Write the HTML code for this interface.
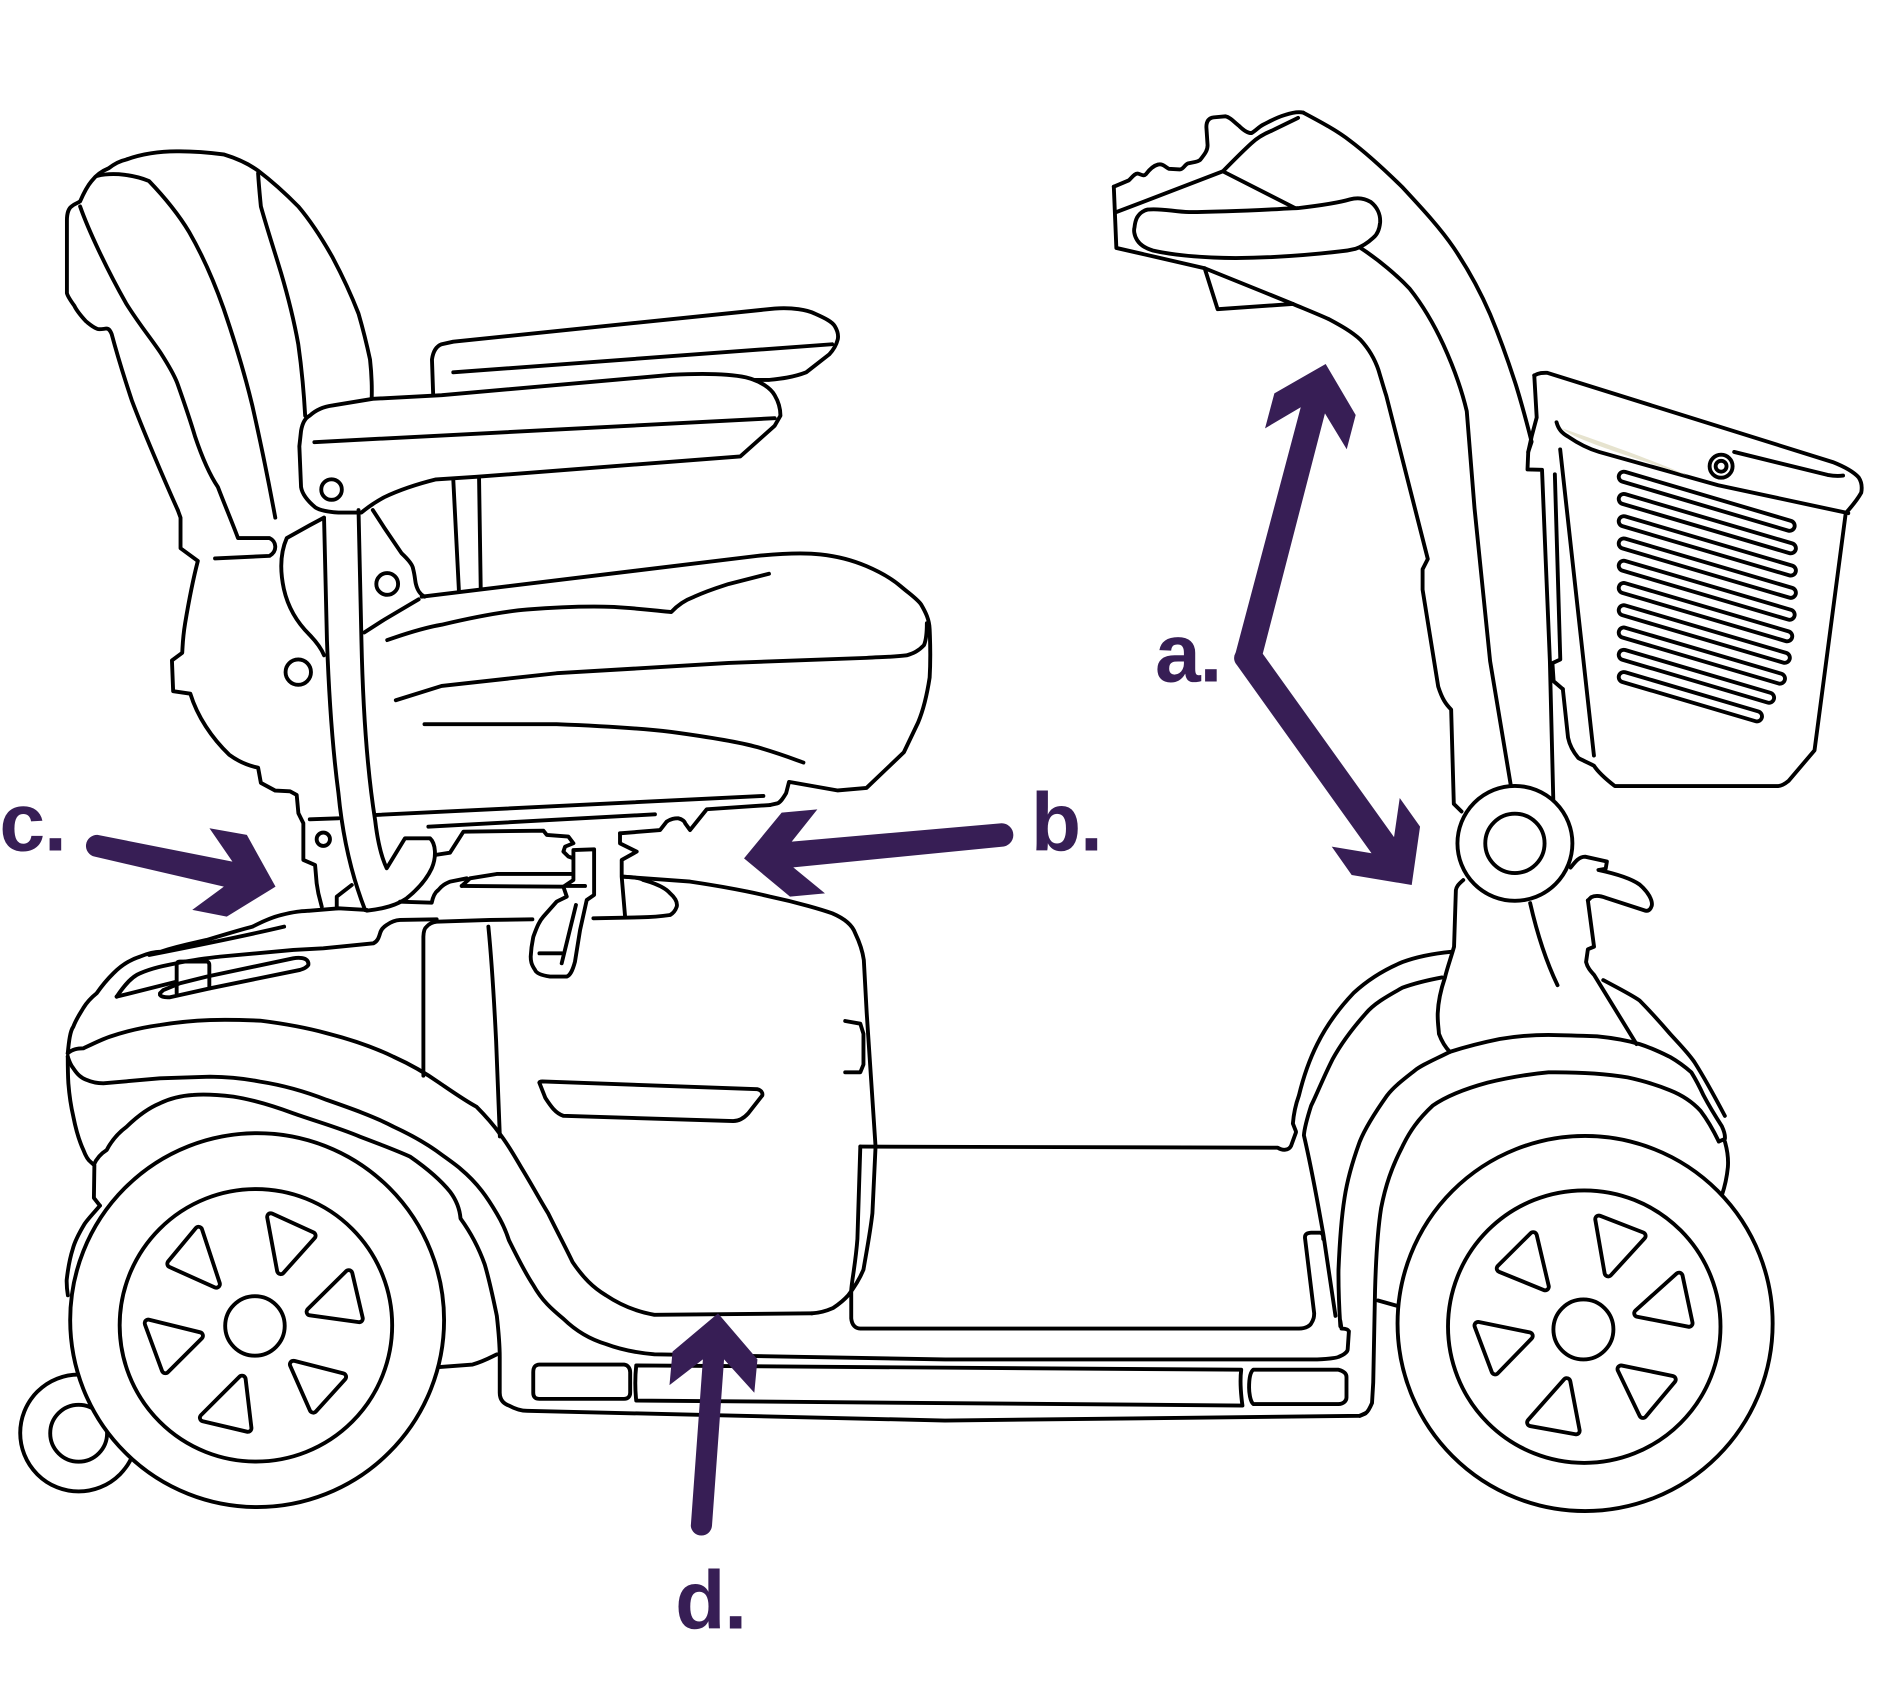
<!DOCTYPE html>
<html>
<head>
<meta charset="utf-8">
<style>
html,body{margin:0;padding:0;background:#fff;}
svg{display:block;}
.l path,.l circle,.l polygon,.l polyline{fill:none;stroke:#000;stroke-width:3.2;stroke-linejoin:round;stroke-linecap:round;}
.l .w{fill:#fff;}
.p{fill:#371e55;stroke:none;}
.lab{font-family:"Liberation Sans",Arial,sans-serif;font-weight:bold;font-size:68px;fill:#371e55;letter-spacing:-1px;}
.tb polygon{fill:#000;stroke:#000;stroke-width:9.2;stroke-linejoin:round;}
.tw polygon{fill:#fff;stroke:#fff;stroke-width:2.8;stroke-linejoin:round;}
</style>
</head>
<body>
<svg width="1894" height="1684" viewBox="0 0 1565.29 1391.74" xmlns="http://www.w3.org/2000/svg">
<rect x="0" y="0" width="1565.29" height="1391.74" fill="#fff"/>
<g class="l">
<!-- ================= SEAT BACK ================= -->
<path d="M146.9,421.5 C135,395 118,355 108.9,330.8 C102,310 96,290 92.3,276.1 C91,273 90,271.5 88,271.5 C84,272 82,272.5 80.4,271.8 C76,270 73,267 71,265.5 C66,260 63,256 61.5,252.8 C58,248 56,245 55.3,242.3 L55.3,182 C55.3,176 57,172 59.1,170.6 C62,168 64,168 66.2,166.4 C69,160 72,154 75.7,149.6 C80,144 85,141 89.9,139 C95,135 99,133 104.2,131.9 C118,127 132,125 146.9,125.1 C160,125 172,126 184.8,127.6 C196,131 205,135 213.3,141.1 C225,150 236,160 246.5,170.6 C257,183 266,197 274.9,212.8 C283,228 290,243 296.3,259.2 C300,272 303,284 305.8,297.1 C307,308 307.5,318 307.2,328.7"/>
<path d="M66.2,170.6 C73,190 88,222 104.2,250.7 C115,268 125,280 133,292 C140,303 145,312 147,318 C153,335 158,350 161.1,360.4 C167,378 173,392 180.1,402.5 C186,418 192,432 196.7,444.7 L222.8,444.7 C228,447 230,455 222.8,459.4 L177.7,461.5"/>
<path d="M80.4,145.3 C95,142 112,145 123.1,149.6 C136,163 148,178 156.3,191.7 C168,212 177,233 184.8,255 C194,282 202,308 208.5,335.1 C216,368 222,398 227.5,427.8"/>
<path d="M213.3,143.2 C214,155 215,164 215.6,170.6 C221,190 227,208 232.2,225.4 C238,245 243,265 246.5,284.5 C249,302 251,322 252.2,343.5"/>
<!-- seat pivot housing -->
<path d="M146.9,421.5 L149.2,427.8 L149.2,453.1 L163.5,463.6 C160,477 156,497 153,515 C151,527 151,533 150.6,539.5 L142.1,545.8 L143.1,571.2 L157.3,573.3 C163,592 175,610 189.5,623.8 C198,630 206,633 213.3,634.4 L215.6,647 L227.5,653.4 L239.7,654 L245.2,657 L246.6,672.1 L250.7,680.4 L250.7,710.7 L260.4,714.9 L261.7,730 L263.1,738.3 L265.9,749.3"/>
<path d="M267.8,427.8 L256,434.1 L237,444.7 C232,456 231,470 234.6,486.8 C238,502 246,515 256,524.8 C262,531 266,537 267.8,541.6"/>
<circle cx="246.5" cy="555.5" r="10.5"/>
<circle cx="320" cy="482.6" r="9"/>
<circle cx="267.2" cy="693.6" r="5.5"/>
<path d="M256,677.1 L279.6,676.3"/>
<path d="M278.3,750.7 L278.3,741 L290.7,731.4"/>
<!-- seat side under armrest -->
<path d="M308.1,421.5 L317.6,436.2 L331.9,457.3 C338,463 341,467 341.4,470 C343,476 343,480 343.7,482.6 C345,488 347,491 350.8,493.1"/>
<!-- ================= ARMRESTS ================= -->
<path d="M358,326.6 L357,297.1 C358,290 361,286 365,284.5 L374.6,282.4 L640.2,255 C655,254 667,256 673.4,259.2 C682,263 688,266 690,269.7 C692,273 693,277 692.4,280.3 C691,286 688,290 685.3,292.9 L666.3,307.7 C655,312 645,313 635.5,314 L621.2,314"/>
<path d="M374.6,307.7 L687.7,284.5"/>
<path d="M374.6,396.2 L379.3,488.9"/>
<path d="M395.9,394.1 L397.3,486.8"/>
<path class="w" d="M248.8,356.1 C250,349 253,345 256,343.5 C262,338 268,336 274.9,335.1 L308.1,329.6 L365,326.6 L554.8,309.8 C580,308.5 603,309 616.5,311.9 C629,315 637,321 640.2,326.6 C644,333 645,339 645,343.5 L640.2,351.9 L611.8,377.2 L393.5,394.1 L360.3,396.2 C345,400 330,405 317.6,410.9 C310,415 303,420 298.7,423.6 L279.7,423.6 C270,423 264,421.5 260.7,419.4 C253,413 249.5,407 248.8,402.5 L247.4,368.8 Z"/>
<path d="M259.8,365.4 L640.2,345.6"/>
<circle cx="274" cy="404.6" r="8.5"/>
<!-- ================= SEAT CUSHION ================= -->
<path d="M348.5,493.1 L626,459.4 C650,457 668,457 678.2,458.2 C695,460 707,464 716.1,467.9 C728,473 738,479 744.6,484.7 C752,491 758,495 761.2,499.5 C765,506 768,512 768.3,520 C769,535 769,548 768.3,560 C766,575 763,587 758.8,597 L747,621.7 L716.1,651.2 L692.4,653.3 L652.1,646.2 L649.7,655.5 C647,660 645,663 642.6,663.9 L636.4,665.3"/>
<path d="M766,515 C766,525 765,530 763.6,533.2 C759,538 755,540 749.3,541.6 C738,543 728,543 716.1,543.7 L602.3,547.9 L460,556.4 L365,566.9 L327.1,578.7"/>
<path d="M301,522.7 L317.6,512.1 L346,495.3"/>
<path d="M320,529 C340,522 355,518 365,516.3 C400,508 420,505 436.2,503.7 C470,501 490,501 507.4,501.6 C530,503 545,505 554.8,505.8 C560,500 566,496 573.8,493.1 C585,488 595,485 602.3,482.6 L635.5,474.2"/>
<path d="M350.8,598.5 L460,598.5 C500,600 530,602 554.8,604.9 C585,609 610,613 626,617.5 C645,623 655,627 664,630.2"/>
<path d="M311.3,673.5 L630.9,657.8"/>
<path d="M354,683.2 L541.3,673"/>
<!-- tube -->
<path d="M267.8,427.8 L270.2,529 C272,580 275,620 279.7,655.5 C283,690 290,722 301.7,752"/>
<path d="M296.3,421.5 L298.7,529 C300,590 304,640 310,677.7 C312,695 315,708 319.6,717.6 L334.7,692.8 L355.4,692.8 C360,697 361,708 356.8,717.6 C352,728 344,736 336.1,742.4 C328,748 318,751 303.1,752.6 L301.7,752"/>
<!-- mechanism -->
<path d="M359.5,706.6 L371.9,704.7 L383,687.3 L449.1,686.5 L451.9,690 L469.7,691.4 L473.9,696.9 L467,699.7 L465.6,703.8 L469.7,707.9 L473.9,709.3"/>
<path d="M381.6,732.2 L388.5,725.9 L410.5,722.3 L472.5,722.3"/>
<path d="M381.6,732.2 L468.4,732.8"/>
<path d="M330.6,745.2 L356.8,746 C358,740 360,737 362.3,735.5 C366,731 369,730 372,728.6 L385.7,725.9"/>
<path class="w" d="M473.9,702.5 L491,701.9 L491,739.6 L484.9,743.8 L479.4,768.6 L475.2,794.7 C473,803 471,806 468.4,807.1 L454.6,807.1 C447,806 443,804 442.2,801.6 C439,797 438.6,794 438.6,790.6 C439,782 440,778 440.8,774.1 C444,765 446,761 449.1,757.5 L460.1,745.1 L468.4,741 L465.6,732.8 L473.9,727.3 Z"/>
<path d="M476,747.9 L464.2,796.1"/>
<path d="M445.8,787.9 L464.2,787.9"/>
<path d="M468.4,732.2 L483.5,732.2"/>
<!-- seat post -->
<path d="M512.4,688.7 L512.4,697 L526.2,703.8 L513.8,710.7 L513.8,724.5 L516.6,757.5"/>
<path d="M512.4,688.7 L545.5,686 L551,679 C554,677 558,676 560.6,676.3 C564,677 566,679 566.2,680.4 L570.3,686 L584.1,668.8 L636.4,665.3"/>
<path d="M515.2,724.5 C525,725 530,726 531.7,727.3 C545,731 551,735 553.8,738.3 C558,742 560,746 559.3,749.3 C558,753 556,755 553.8,756.2 C545,757.5 535,758 529,758.1 L490.4,758.9"/>
<!-- ================= BODY ================= -->
<path d="M515.2,724.5 L570.3,728.6 C600,733 620,737 636.4,741 C660,746 680,752 687.8,754.8 C700,760 705,766 706.8,771.3 C711,780 713,787 713.9,793.4 L716.3,837.4 L723.6,947.6 L721,1002.7 C719,1020 716,1035 713.6,1049.3 C710,1058 706,1064 701,1070.5 C697,1075 693,1078 688.5,1081 C684,1083 678,1085 671,1085.4"/>
<path d="M698.5,843.8 L711,846 L713.6,854.4 L713.6,879.8 L711,886.2 L698.5,886.2"/>
<path d="M349.9,889 L349.9,774.1 C350,770 351,767 352.6,765.8 C355,763 358,762 360.9,761.7 L405,760.3 L440,759.8"/>
<path d="M403.6,765.8 C406,790 408,820 410,860 L413.1,939.2"/>
<path d="M448.2,893.8 L626,900.2 C629,901 630.5,903 630,905.3 L618.4,920.1 C614,925 610,926.5 605.9,926.5 L465.7,922.2 C459,920 455,914 450.7,907.4 L445.7,894.7 C446,894 447,893.8 448.2,893.8 Z"/>
<!-- rear top profile -->
<path d="M56,870.5 C57,860 58,852 60.6,848.5 C63,842 66,838 68.9,833 C72,828 76,824 79.9,820.9 C84,815 89,809 93.7,804.4 C100,798 108,793 115.7,790.6 C122,788 127,786.5 132.8,786.5 C150,781 162,779 170.8,776.8 C190,771 200,768 208.7,765.8 C218,761 225,758 232.4,756.2 C245,753 250,753 256.2,752.6 L280,750.7 L303.1,752"/>
<path d="M234.8,765.8 C200,774 160,782 123.3,789.2"/>
<path d="M96.4,823.7 C103,814 109,807 115.7,804.4 C126,800 136,798 146,796.1 C160,793 170,792 181.8,790.6 C200,789 220,787 242.4,785.1 L267.2,783.7 L308.6,779.6 C312,778 313,775 314.1,771.3 C315,768 317,766 319.6,764.4 C323,762 327,760.5 330.6,760.3 L360.9,759.8"/>
<path d="M96.4,823.7 L146,811.3"/>
<path d="M132.2,820.9 L135,818.2 L148.8,812.6 L170.8,807.1 L242.4,792 C248,791 252,792 253.5,793.4 C255,795 255,796.5 254.8,797.5 C253,800 250,801 247.9,801.6 L173.6,816.8 L140.5,824.2 C136,824.5 133,823.5 132.2,822.3 Z"/>
<path d="M146,820.9 L146,797.5 C146,795.5 147,794.7 148.8,794.7 L170.8,794.7 C172,794.7 173,795.5 173,797.5 L173,816.8"/>
<!-- curve A -->
<path d="M56,870.5 C60,867 64,866.5 68.9,866.4 C76,863 84,859 90.9,856.7 C105,852 118,849 132.2,847.1 C145,845 160,843.5 173.6,843 C190,842.5 203,843 214.9,843.5 C235,846 252,849 270,853.9 C290,859 308,865 325.1,873.3 C340,880 352,887 363.7,895.3 C375,903 385,910 393.7,914.6 C402,923 408,930 412.7,936.6 C420,946 425,955 430.6,964.6 C440,980 447,993 453,1002.7 C460,1017 467,1030 473.2,1043 C482,1056 490,1064 500.8,1070.5 C512,1078 526,1084 540.8,1086.6 L671,1085.4"/>
<!-- curve B -->
<path d="M56,873.3 C57.5,878 59,881 60.6,882.9 C64,888 67,891 71.6,892.5 C76,894.5 80,895.3 85.4,895.3 L132.2,891.2 L173.6,889.8 C190,890 203,891.5 214.9,893.9 C235,897 252,902 270,909 C290,916 310,923 325.1,931.1 C340,938 352,945 360.5,951 C370,958 376,962 380.6,966 C395,978 403,990 410.6,1003 C416,1012 419,1020 420.6,1025 C428,1040 434,1052 440.7,1062 C448,1075 456,1082 465.7,1090 C476,1100 488,1107 500.8,1110.8 C512,1115 526,1118 540.8,1119.3 L781.2,1123.5 L1088.6,1123.5 C1100,1123 1106,1122 1106.2,1121.4 C1111,1119.5 1113.8,1117 1113.8,1115 L1114.8,1100.2 C1114,1098.5 1111,1098 1108.7,1098 L1107.7,1091.7"/>
<!-- rear left lower side -->
<path d="M56,873 C56,885 56.3,892 56.5,895.3 C57.5,908 59,916 60.6,922.8 C63,935 65.5,943 68.9,950.4 C71,956 73,959 75,960.4 L78,963 L77.6,990 L82.6,996.4"/>
<path d="M82.6,996.4 C77,1003 73,1007 70.1,1011.2 C66,1018 62,1025 60.1,1032.4 C57,1042 56,1050 55.1,1057.8 C55,1063 55.5,1067 56.1,1070.5"/>
<path d="M363,1129.8 L390.6,1127.7 C400,1125 405,1122 410.6,1119.3"/>
<!-- wheel arch curve C -->
<path d="M77.6,962.5 C80,957 84,953 88.2,950.4 C92,943 98,936 104.7,931.1 C113,923 122,916 132.2,911.8 C140,908 150,905.5 159.8,904.9 C170,904 182,905 192.9,906.3 C210,909 226,914 242.4,920.1 C262,927 280,932 297.5,939.4 C315,946 328,951 338.9,955.9 C352,965 364,975 372,985 C378,993 380,1000 380.6,1007 C390,1020 396,1032 400.6,1045 C405,1060 408,1075 410.6,1087.5 C412,1100 413,1110 413,1121.4 L413,1151 C413,1157 416,1160 420.6,1161.6 C425,1164 430,1166 435.6,1166 L781,1174 L1123.8,1170.1 C1127,1169 1129,1168 1128.8,1167.8"/>
<!-- light slots -->
<path d="M445.7,1127.7 L515.8,1127.7 C519,1128 520.8,1131 520.8,1134.1 L520.8,1151 C520.8,1154 519,1156 515.8,1156.1 L445.7,1156.1 C442,1156 440.7,1154 440.7,1151 L440.7,1134.1 C440.7,1130 442,1128 445.7,1127.7 Z"/>
<path d="M525.8,1128.5 L1025.8,1132 C1024.5,1142 1025.5,1152 1026.8,1161.6 L525.8,1157.5 C524.8,1148 524.8,1138 525.8,1128.5 Z"/>
<path d="M1035.8,1132 L1106.2,1132 C1110,1133 1112.8,1135 1112.8,1138 L1112.8,1155 C1112.8,1158 1110,1160.4 1106.2,1160.4 L1035.8,1160.4 C1033,1158 1032.3,1150 1032.3,1146.8 C1032.3,1140 1033,1134 1035.8,1132 Z"/>
<!-- deck / floor mat -->
<path d="M711,947.6 L1055.9,948.5 C1060,951 1065,951 1067,947 L1071,936"/>
<path d="M711,947.6 C710,985 709,1010 708.6,1024 C707,1045 704,1058 703.5,1066.3 L703.5,1089.6 C704,1095 707,1098 711,1098 L1073.5,1098 C1080,1098 1083,1095 1083.6,1093.8 C1086,1090 1086,1088 1086.1,1085.4 L1078.6,1023.9 C1078,1020 1080,1019 1083.6,1018.8 L1091.1,1018.8 C1093,1019 1093.6,1021 1093.6,1023.9"/>
<!-- front fender arcs -->
<path d="M1199.2,786.6 C1185,788 1170,791 1159,795.1 C1140,803 1128,812 1118.8,820.5 C1105,835 1095,850 1088.6,862.9 C1080,880 1076,895 1073.5,905.3 C1070,915 1069,922 1068.5,928.6 L1071,935"/>
<path d="M1191.7,807.8 C1180,810 1168,813 1159,816.3 C1145,824 1135,830 1128.8,837.5 C1115,853 1107,865 1101.2,875.6 C1093,892 1088,905 1083.6,913.7 C1080,925 1078,933 1077.6,938.3 C1085,970 1090,1000 1093.6,1019.7 L1103.7,1087.5"/>
<path d="M1198.2,869.3 C1185,876 1175,880 1169,884.9 C1160,892 1152,898 1146.4,905.3 C1136,920 1128,933 1123.8,943.4 C1117,962 1113,978 1111.2,990 C1108,1010 1107,1030 1106.2,1049.3 C1106,1070 1107,1085 1107.7,1096"/>
<path d="M1198.2,869.3 C1215,864 1228,861 1239.4,858.7 C1255,856 1268,855.3 1279.7,855.3 C1295,855.5 1308,856 1319.9,856.5 C1335,858 1345,860 1355.1,862.9 C1365,866 1373,870 1380.2,873.5 C1388,878 1393,882 1397.8,886.2 C1402,893 1405,899 1407.9,905.3 C1413,915 1418,923 1423,930.7 C1425,935 1426,938 1425.5,941.3 L1420.5,943.4"/>
<path d="M1420.5,943.4 C1415,932 1410,924 1405.4,918 C1398,910 1390,905 1380.2,901.1 C1368,896 1357,893 1345.1,890.4 C1325,887 1300,886 1279.7,886.2 C1260,888 1245,891 1229.4,894.7 C1210,900 1195,906 1184.1,913.7 C1172,925 1165,935 1159,947.6 C1150,965 1145,980 1141.4,998.5 C1138,1020 1137,1045 1136.4,1066.3 L1134.9,1142.6 L1133.9,1159.5 C1132,1164 1130,1167 1128.8,1167.8 L1123.8,1170.1"/>
<path d="M1425.5,943.4 C1428,952 1428.5,958 1428,964.6 C1427,975 1425,982 1423,987.9"/>
<path d="M1138.9,1074.8 L1154,1079"/>
<path d="M1325,810 C1338,817 1348,822 1355.1,826.9 C1365,837 1373,846 1380.2,854.4 C1388,863 1395,870 1400.3,877.7 C1410,893 1418,908 1425.5,922.2"/>
<!-- steering column lower -->
<path d="M1209.3,727.3 C1205,731 1203.5,733 1203.2,735.8 L1201.7,782.4 C1199,792 1196,800 1194.2,807.8 C1190,820 1188.5,830 1188.2,837.5 C1188,845 1189,850 1189.2,854.4 C1192,862 1195,866 1198.2,869.3"/>
<path d="M1264.6,746.4 C1270,770 1278,795 1287.2,814.2"/>
<path d="M1312.3,744.2 L1317.4,782.4 L1312.3,784.5 L1310.8,795.1 C1312,800 1315,803 1317.4,805.7 L1352.5,862.9"/>
<path d="M1298,717 C1302,712 1305,708 1310,708 L1328,712 L1327,718 L1321,719 C1335,722 1348,726 1355,731 C1362,737 1366,744 1365.1,748.5 C1364,752 1362,753 1360,752.7 L1327.4,742.1 C1322,740 1318,740 1315,741.5 L1312.3,744.2"/>
<!-- ================= TILLER ================= -->
<path d="M920.5,154.3 L933,149 C936,146 938,143 940.5,143.5 C943,144 945,146 947,144 C950,140 953,137 957,136 C961,135 963,138 966,139.5 L975,140 C978,140 979,136 982,135 C986,134 990,134 992,132 C995,128 998,125 998,120 L997,105 C997,100 999,97.5 1003,97 L1012.7,96.1 C1017,97 1020,101 1024,104 C1028,108 1031,110 1034.2,110 C1038,108 1040,105 1044,103 C1050,100 1055,97 1062,95 C1068,93 1073,92 1077.1,93.1"/>
<path d="M920.5,154.3 L922.6,204.9 L995.6,221.7 L1042.7,240.7 L1068.5,251.2"/>
<path d="M995.6,221.7 L1006.3,255.5 L1068.5,251.2"/>
<path d="M922.6,175.3 L1010.6,141.6 C1020,132 1028,124 1034.2,118.4 C1040,113 1046,110 1051.3,107.9 L1072.8,97.4"/>
<path d="M1010.6,141.6 L1072.8,173.2"/>
<path d="M1077.1,93.1 C1092,101 1105,108 1115.7,116.3 C1130,127 1145,141 1158.6,154.3 C1175,172 1190,188 1201.5,204.9 C1213,222 1223,240 1231.5,259.7 C1240,280 1247,300 1253,318.7 C1258,335 1262,350 1265.8,365.1 L1263,373.5 L1262.4,388 L1274.4,388.3 L1277.4,462 L1280.9,546.4 L1283.8,664.4"/>
<path d="M1068.5,251.2 C1080,256 1090,260 1098.5,263.9 C1108,269 1117,274 1124.3,280.7 C1131,288 1136,296 1139.3,306 C1142,315 1144,322 1145.7,327.1 L1180,462 L1175.7,470.5 L1175.7,487.3 L1188.6,567.4 C1192,578 1195,582 1199.3,586.4 L1201.5,664.4 L1207.9,670.7"/>
<path d="M1124.3,204.9 C1140,215 1155,228 1165,238.6 C1178,255 1186,270 1192.9,285 C1202,305 1208,322 1212.2,339.8 L1218.6,419.9 L1231.5,546.4 L1248.7,649.6"/>
<path class="w" d="M939.8,179.6 C942,176 945,174 948.4,173.2 C960,172 970,175 982.7,175.3 C1020,175 1050,173 1072.8,172 C1090,170 1105,168 1115.7,164.8 C1122,163 1128,164 1132.8,166.9 C1138,171 1141,177 1140.6,183.8 C1140,190 1138,194 1135,196.4 C1130,201 1125,204 1120,205.7 C1115,207 1111,207.5 1107.1,207.8 C1080,211 1050,213 1021.3,213.3 C995,213 970,211 952.7,207 C946,205 942,202 939.8,198.5 C937,194 937,190 937.6,188 C938,184 938.5,182 939.8,179.6 Z"/>
<circle class="w" cx="1252" cy="697" r="47.5"/>
<circle cx="1252" cy="697" r="24.5"/>
<!-- ================= BASKET ================= -->
<path d="M1268,310.3 L1270,345 L1266,360 L1263,373.5"/>
<path d="M1285,392 L1289.5,545 L1283,548 L1284,563 L1291.6,569.5"/>
<path d="M1268,310.3 C1272,308 1275,308 1278.7,308.1 L1514.7,381.9 C1525,386 1532,390 1536.1,394.6 C1539,399 1539,403 1538.2,407.2 C1535,413 1530,419 1525.4,424.1 L1499.6,620.1 L1478.2,645.4 C1475,648 1472,649.6 1469.6,649.6 L1334.5,649.6 C1326,643 1320,637 1317.3,632.8 C1312,630 1307,628 1304.4,626.4 C1299,620 1297,615 1295.9,609.6 L1291.6,569.5"/>
<path d="M1286.4,349 C1288,355 1291,358 1295.9,360.8 C1305,367 1313,371 1321.6,373.5 L1420,401 L1527.5,424.1"/>
<path d="M1433.2,373.5 L1510.4,392.5 C1516,393.5 1520,393.5 1523.2,393"/>
<path d="M1289.4,371.4 L1317.3,624.4"/>
<circle class="w" cx="1422.4" cy="385.3" r="9.5"/>
<circle cx="1422.4" cy="385.3" r="4.5"/>
</g>
<!-- beige highlight -->
<path d="M1291,354 C1300,362 1330,372 1395,393 C1360,378 1320,364 1291,354 Z" fill="#e6e3cf" stroke="none"/>
<!-- vents -->
<g fill="none" stroke-linecap="round">
<g stroke="#000" stroke-width="11.6">
<path d="M1342,394 L1479,434.5"/><path d="M1342,412.4 L1480,453.1"/><path d="M1342,430.8 L1480,471.5"/><path d="M1342,449.2 L1480,489.9"/><path d="M1342,467.6 L1479,508"/><path d="M1342,486 L1477,525.8"/><path d="M1342,504.4 L1475,543.6"/><path d="M1342,522.8 L1471,560.8"/><path d="M1342,541.2 L1462,576.6"/><path d="M1342,559.6 L1452,592"/>
</g>
<g stroke="#fff" stroke-width="5.2">
<path d="M1342,394 L1479,434.5"/><path d="M1342,412.4 L1480,453.1"/><path d="M1342,430.8 L1480,471.5"/><path d="M1342,449.2 L1480,489.9"/><path d="M1342,467.6 L1479,508"/><path d="M1342,486 L1477,525.8"/><path d="M1342,504.4 L1475,543.6"/><path d="M1342,522.8 L1471,560.8"/><path d="M1342,541.2 L1462,576.6"/><path d="M1342,559.6 L1452,592"/>
</g>
</g>
<g class="l">
<!-- ================= WHEELS ================= -->
<circle class="w" cx="65" cy="1184.3" r="48.3"/>
<circle cx="65" cy="1184.5" r="23.5"/>
<circle class="w" cx="212.5" cy="1091" r="154.5"/>
<circle cx="211.5" cy="1095.3" r="112.6"/>
<circle cx="210.7" cy="1095.8" r="24.6"/>
<circle class="w" cx="1310" cy="1093.8" r="155"/>
<circle cx="1309.3" cy="1096.4" r="112.6"/>
<circle cx="1308.6" cy="1098.7" r="24.8"/>
</g>
<!-- rounded spoke openings -->
<g class="tb">
<polygon points="164.1,1016.9 178.7,1061.2 141.3,1044.4"/>
<polygon points="223.8,1005.7 257.8,1021.2 232,1050"/>
<polygon points="288.2,1052.7 296.8,1089.7 256.4,1084.1"/>
<polygon points="242.6,1127.6 283,1137.9 258.9,1164.5"/>
<polygon points="200,1139.9 204.8,1180.3 168.2,1171.7"/>
<polygon points="122.6,1093.6 164.7,1104 136.7,1131.9"/>
<polygon points="1267.1,1021.3 1277,1063.4 1240,1048.3"/>
<polygon points="1321.4,1007.6 1357,1021.4 1329.1,1051.9"/>
<polygon points="1387.6,1054.8 1395.8,1093.5 1353.6,1085.3"/>
<polygon points="1339.8,1131.5 1381.9,1140.1 1357.8,1168.9"/>
<polygon points="1294.8,1142 1302.5,1182.4 1265.1,1175.6"/>
<polygon points="1221.6,1095.5 1263.7,1104.1 1235.7,1132.9"/>
</g>
<g class="tw">
<polygon points="164.1,1016.9 178.7,1061.2 141.3,1044.4"/>
<polygon points="223.8,1005.7 257.8,1021.2 232,1050"/>
<polygon points="288.2,1052.7 296.8,1089.7 256.4,1084.1"/>
<polygon points="242.6,1127.6 283,1137.9 258.9,1164.5"/>
<polygon points="200,1139.9 204.8,1180.3 168.2,1171.7"/>
<polygon points="122.6,1093.6 164.7,1104 136.7,1131.9"/>
<polygon points="1267.1,1021.3 1277,1063.4 1240,1048.3"/>
<polygon points="1321.4,1007.6 1357,1021.4 1329.1,1051.9"/>
<polygon points="1387.6,1054.8 1395.8,1093.5 1353.6,1085.3"/>
<polygon points="1339.8,1131.5 1381.9,1140.1 1357.8,1168.9"/>
<polygon points="1294.8,1142 1302.5,1182.4 1265.1,1175.6"/>
<polygon points="1221.6,1095.5 1263.7,1104.1 1235.7,1132.9"/>
</g>
<!-- ================= ARROWS ================= -->
<path class="p" d="M1095.6,300.8 L1120.4,343 L1113,371.3 L1095,341.6 L1043.6,540.3 L1152.1,691.8 L1156.8,659.5 L1173.6,683.2 L1166.7,731.4 L1117.1,723.1 L1100.6,699.7 L1133.5,705.2 L1022.5,550 Q1018,545 1021.3,539 L1075,336.6 L1045.5,354 L1053.2,325.1 Z"/>
<path class="p" d="M614.9,709.4 L646,671.6 L675.5,668.9 L654.3,695.6 L827.8,680.4 A9.7,9.7 0 0 1 827.8,699.8 L655.6,716.8 L681.8,738.3 L652.9,741 Z"/>
<path class="p" d="M80.6,690 L192.1,712.1 L173.1,684.5 L204,690 L227.7,732.8 L187.4,757.5 L158.9,752 L185,732.8 L78.3,708 A9.1,9.1 0 0 1 80.6,690 Z"/>
<path class="p" d="M593.4,1085.4 L626,1123.5 L623.4,1151 L598.4,1123.5 L588.4,1261.2 A8.8,8.8 0 0 1 570.9,1261.2 L580.9,1123.5 L553.3,1144.7 L555.8,1117.1 Z"/>
<!-- ================= LABELS ================= -->
<text class="lab" x="954.5" y="563.4">a.</text>
<text class="lab" x="852" y="703">b.</text>
<text class="lab" x="-0.5" y="703">c.</text>
<text class="lab" x="558" y="1346">d.</text>
</svg>
</body>
</html>
